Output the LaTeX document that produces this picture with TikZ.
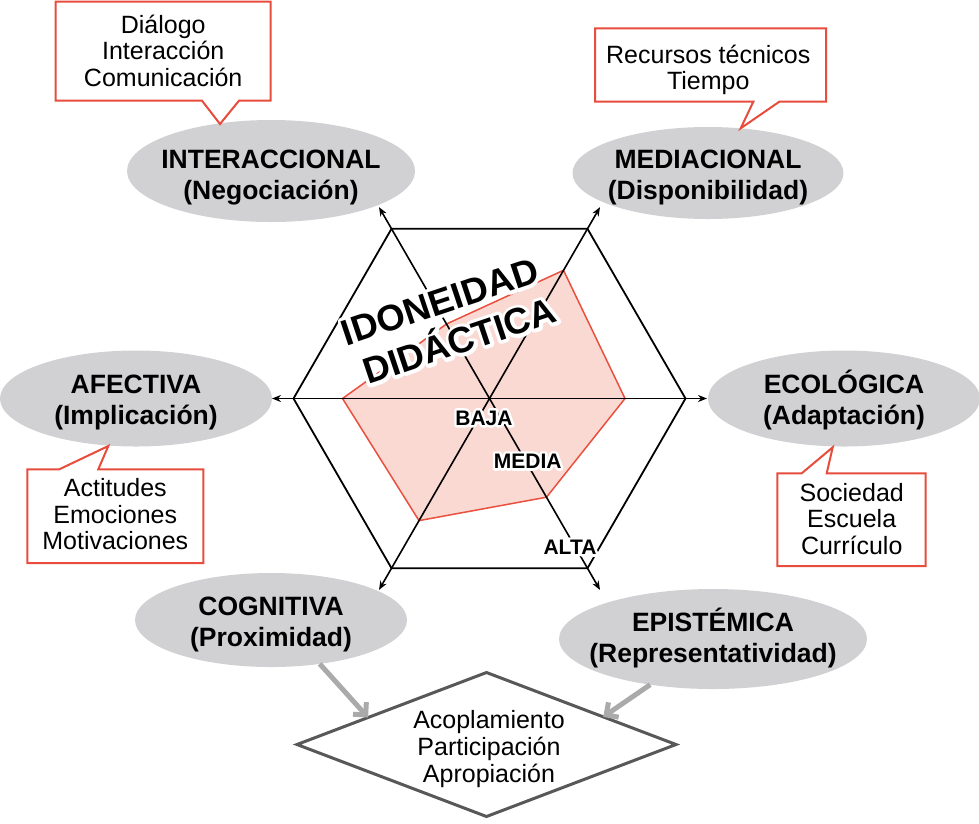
\documentclass[tikz,border=0pt]{standalone}
\usepackage{fontspec}
\setmainfont{Liberation Sans}
\newfontfamily\halotitle[FakeBold=19]{Liberation Sans Bold}
\newfontfamily\halolevel[FakeBold=24]{Liberation Sans Bold}
\usetikzlibrary{shapes.geometric,arrows.meta,calc}
\definecolor{ellgray}{RGB}{209,209,211}
\definecolor{cred}{RGB}{231,76,60}
\definecolor{pfill}{RGB}{250,217,211}
\definecolor{pline}{RGB}{234,80,62}
\definecolor{agray}{RGB}{170,170,170}
\definecolor{dgray}{RGB}{88,88,88}
\newcommand{\lines}[1]{\begin{tabular}[t]{@{}c@{}}#1\end{tabular}}
\tikzset{
  ell/.style={ellipse, fill=ellgray, inner sep=0pt, outer sep=0pt},
  elltext/.style={anchor=base, inner sep=0pt, font=\fontsize{26.5}{31}\selectfont\bfseries},
  callbox/.style={rectangle, inner sep=0pt, outer sep=0pt},
  callline/.style={draw=cred, fill=white, line width=2pt, line join=miter},
  calltext/.style={anchor=base, inner sep=0pt, font=\fontsize{25}{26.5}\selectfont},
  axisline/.style={line width=1.6pt, {Stealth[length=9pt,width=7pt]}-{Stealth[length=9pt,width=7pt]}},
  hexline/.style={line width=1.8pt, line join=miter},
  polyline/.style={fill=pfill, draw=pline, line width=1.5pt, line join=miter},
  titletext/.style={anchor=base, inner sep=0pt, rotate=18.5, font=\fontsize{36.5}{40}\selectfont\bfseries},
  titlehalo/.style={anchor=base, inner sep=0pt, rotate=18.5, text=white, line join=round, font=\fontsize{36.5}{40}\selectfont\halotitle},
  leveltext/.style={anchor=center, inner sep=0pt, font=\fontsize{21}{24}\selectfont\bfseries},
  levelhalo/.style={anchor=center, inner sep=0pt, text=white, line join=round, font=\fontsize{21}{24}\selectfont\halolevel},
  garrow/.style={draw=agray, line width=5pt, -{Straight Barb[length=9pt,width=18pt]}},
  dia/.style={diamond, draw=dgray, line width=3pt, inner sep=0pt, outer sep=0pt, aspect=2.63, minimum width=379pt, minimum height=144pt}
}
\begin{document}
\begin{tikzpicture}[x=1pt,y=-1pt]
\useasboundingbox (0,0) rectangle (979,823);

% ellipses
\node[ell, minimum width=288pt, minimum height=102pt] (inter) at (271,171) {};
\node[ell, minimum width=271pt, minimum height=92pt] (media) at (708,173) {};
\node[ell, minimum width=272pt, minimum height=96pt] (afec) at (136,398.5) {};
\node[ell, minimum width=272pt, minimum height=96pt] (ecol) at (844,398.5) {};
\node[ell, minimum width=272pt, minimum height=94pt] (cogn) at (271,620) {};
\node[ell, minimum width=308pt, minimum height=100pt] (epis) at (713,639) {};

\node[elltext] (interT) at (271,168.3) {\lines{INTERACCIONAL\\(Negociación)}};
\node[elltext] (mediaT) at (708,168) {\lines{MEDIACIONAL\\(Disponibilidad)}};
\node[elltext] (afecT) at (136,393.3) {\lines{AFECTIVA\\(Implicación)}};
\node[elltext] (ecolT) at (844,393.3) {\lines{ECOLÓGICA\\(Adaptación)}};
\node[elltext] (cognT) at (271,615) {\lines{COGNITIVA\\(Proximidad)}};
\node[elltext] (episT) at (713,631) {\lines{EPISTÉMICA\\(Representatividad)}};

% callouts
\node[callbox, minimum width=215pt, minimum height=99pt] (c1) at (163.2,51.2) {};
\coordinate (c1a) at (202,100.7); \coordinate (c1t) at (220,124); \coordinate (c1b) at (239,100.7);
\draw[callline] (c1.north west) -- (c1.north east) -- (c1.south east) -- (c1b) -- (c1t) -- (c1a) -- (c1.south west) -- cycle;
\node[calltext] (c1T) at (163.2,33.3) {\lines{Diálogo\\Interacción\\Comunicación}};

\node[callbox, minimum width=231pt, minimum height=73.4pt] (c2) at (710.5,65) {};
\coordinate (c2a) at (753.3,101.7); \coordinate (c2t) at (740.7,128.3); \coordinate (c2b) at (779.3,101.7);
\draw[callline] (c2.north west) -- (c2.north east) -- (c2.south east) -- (c2b) -- (c2t) -- (c2a) -- (c2.south west) -- cycle;
\node[calltext] (c2T) at (708.3,63.3) {\lines{Recursos técnicos\\Tiempo}};

\node[callbox, minimum width=176pt, minimum height=93.7pt] (c3) at (115.3,516.2) {};
\coordinate (c3a) at (59.3,469.3); \coordinate (c3t) at (108.3,446); \coordinate (c3b) at (98.3,469.3);
\draw[callline] (c3.north west) -- (c3a) -- (c3t) -- (c3b) -- (c3.north east) -- (c3.south east) -- (c3.south west) -- cycle;
\node[calltext] (c3T) at (115.3,496.7) {\lines{Actitudes\\Emociones\\Motivaciones}};

\node[callbox, minimum width=148.4pt, minimum height=92.7pt] (c4) at (851.5,519.7) {};
\coordinate (c4a) at (801.7,473.3); \coordinate (c4t) at (832.7,447.3); \coordinate (c4b) at (826.7,473.3);
\draw[callline] (c4.north west) -- (c4a) -- (c4t) -- (c4b) -- (c4.north east) -- (c4.south east) -- (c4.south west) -- cycle;
\node[calltext] (c4T) at (851.7,501) {\lines{Sociedad\\Escuela\\Currículo}};

% red polygon
\coordinate (r1) at (563.5,270.3);
\coordinate (r2) at (625,398.5);
\coordinate (r3) at (546.5,497.2);
\coordinate (r4) at (419,520.6);
\coordinate (r5) at (342.5,398.5);
\coordinate (r6) at (446.5,324);
\draw[polyline] (r1) -- (r2) -- (r3) -- (r4) -- (r5) -- (r6) -- cycle;

% hexagon
\coordinate (h0) at (685.5,398.5);
\coordinate (h1) at (587.5,228.8);
\coordinate (h2) at (391.5,228.8);
\coordinate (h3) at (293.5,398.5);
\coordinate (h4) at (391.5,568.2);
\coordinate (h5) at (587.5,568.2);
\draw[hexline] (h0) -- (h1) -- (h2) -- (h3) -- (h4) -- (h5) -- cycle;

% axes
\coordinate (aL) at (272,398.5); \coordinate (aR) at (707,398.5);
\coordinate (aTL) at (379,207.1); \coordinate (aBR) at (600,589.9);
\coordinate (aTR) at (600,207.1); \coordinate (aBL) at (379,589.9);
\draw[axisline] (aL) -- (aR);
\draw[axisline] (aTL) -- (aBR);
\draw[axisline] (aTR) -- (aBL);

% title and levels (white outline under black text)
\node[titlehalo] (tidH) at (444,313.5) {IDONEIDAD};
\node[titlehalo] (tdiH) at (463.5,353) {DIDÁCTICA};
\node[titletext] (tid) at (444,313.5) {IDONEIDAD};
\node[titletext] (tdi) at (463.5,353) {DIDÁCTICA};
\node[levelhalo] (bajaH) at (484,418) {BAJA};
\node[levelhalo] (mediH) at (527.7,461) {MEDIA};
\node[levelhalo] (altaH) at (570,547) {ALTA};
\node[leveltext] (baja) at (484,418) {BAJA};
\node[leveltext] (medi) at (527.7,461) {MEDIA};
\node[leveltext] (alta) at (570,547) {ALTA};

% diamond
\node[dia] (dmd) at (486.5,744.5) {};
\node[calltext, font=\fontsize{25}{27}\selectfont] (dmdT) at (489,728) {\lines{Acoplamiento\\Participación\\Apropiación}};

% gray arrows
\draw[garrow] (cogn.-42) -- ($(dmd.west)!0.375!(dmd.north)$);
\draw[garrow] (epis.216) -- ($(dmd.north)!0.616!(dmd.east)$);
\end{tikzpicture}
\end{document}
